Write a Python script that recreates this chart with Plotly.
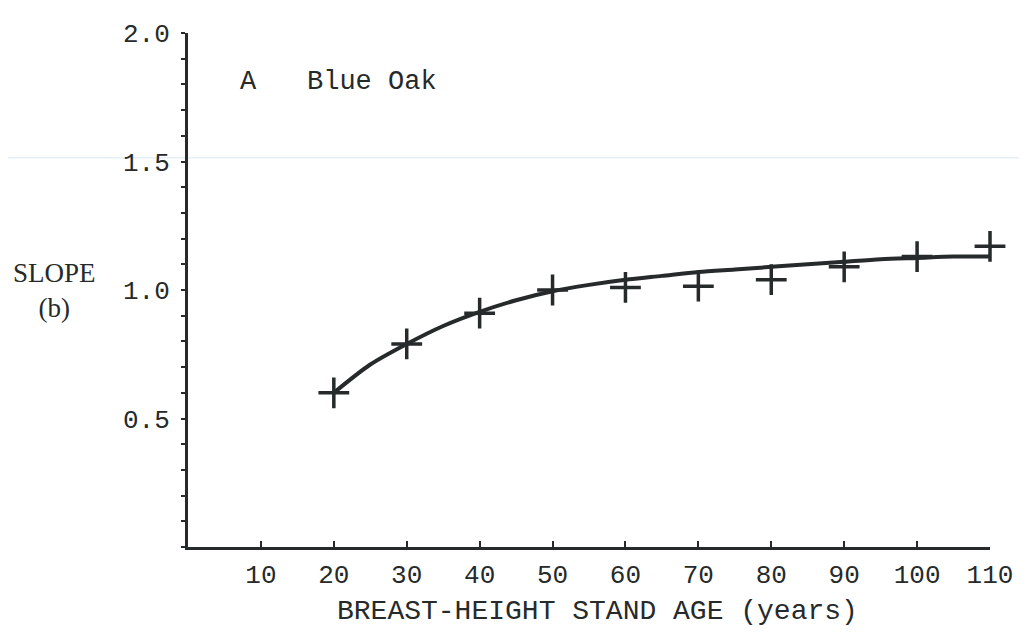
import plotly.graph_objects as go

# Observed data (stand age, slope b)
ages = [20, 30, 40, 50, 60, 70, 80, 90, 100, 110]
slopes = [0.60, 0.79, 0.91, 1.00, 1.01, 1.015, 1.04, 1.09, 1.13, 1.17]

# Fitted curve
curve_ages = [20, 25, 30, 35, 40, 45, 50, 55, 60, 65, 70, 75, 80, 85, 90, 95, 100, 105, 110]
curve_vals = [0.60, 0.71, 0.79, 0.86, 0.915, 0.96, 0.995, 1.02, 1.04, 1.055, 1.07, 1.08, 1.09,
              1.10, 1.11, 1.12, 1.125, 1.13, 1.13]

x_ticks = [10, 20, 30, 40, 50, 60, 70, 80, 90, 100, 110]
y_ticks = [0.5, 1.0, 1.5, 2.0]
y_tick_text = ["0.5", "1.0", "1.5", "2.0"]

INK = "#262a2a"
MONO = "Liberation Mono, Courier New, monospace"
SERIF = "Liberation Serif, Times New Roman, serif"

fig = go.Figure()

fig.add_trace(go.Scatter(
    x=curve_ages, y=curve_vals, mode="lines",
    line=dict(color=INK, width=4, shape="spline", smoothing=0.8),
    hoverinfo="skip", showlegend=False,
))

fig.add_trace(go.Scatter(
    x=ages, y=slopes, mode="markers",
    marker=dict(symbol="cross-thin", size=22, line=dict(color=INK, width=3.5)),
    cliponaxis=False, showlegend=False,
))

fig.update_layout(
    width=1027, height=642,
    margin=dict(l=180, r=45, t=19, b=103),
    paper_bgcolor="white", plot_bgcolor="white",
    font=dict(family=MONO, color=INK, size=26),
    xaxis=dict(
        range=[0, 110], tickmode="array", tickvals=x_ticks,
        showgrid=False, zeroline=False,
        showline=True, linecolor=INK, linewidth=3,
        ticks="inside", ticklen=6, tickwidth=2, tickcolor=INK,
        ticklabelstandoff=2,
        tickfont=dict(family=MONO, size=26, color=INK),
    ),
    yaxis=dict(
        range=[0, 2.0], tickmode="array", tickvals=y_ticks, ticktext=y_tick_text,
        showgrid=False, zeroline=False,
        showline=True, linecolor=INK, linewidth=3,
        ticks="outside", ticklen=4, tickwidth=2, tickcolor=INK,
        ticklabelstandoff=6,
        tickfont=dict(family=MONO, size=26, color=INK),
        minor=dict(dtick=0.1, ticks="outside", ticklen=4, tickwidth=2, tickcolor=INK, showgrid=False),
    ),
    shapes=[
        dict(type="line", xref="paper", yref="paper", x0=-0.23, x1=1.05, y0=0.757, y1=0.757,
             line=dict(color="rgba(170,205,220,0.45)", width=1), layer="below"),
    ],
    annotations=[
        dict(text="A", xref="paper", yref="paper", x=0.076, y=0.905,
             showarrow=False, font=dict(family=MONO, size=27, color=INK),
             xanchor="center", yanchor="middle"),
        dict(text="Blue Oak", xref="paper", yref="paper", x=0.230, y=0.905,
             showarrow=False, font=dict(family=MONO, size=27, color=INK),
             xanchor="center", yanchor="middle"),
        dict(text="SLOPE<br>(b)", xref="paper", yref="paper", x=-0.167, y=0.5,
             showarrow=False, font=dict(family=SERIF, size=27, color=INK),
             xanchor="center", yanchor="middle"),
        dict(text="BREAST-HEIGHT STAND AGE (years)", xref="paper", yref="paper",
             x=0.511, y=-0.125, showarrow=False,
             font=dict(family=MONO, size=28, color=INK),
             xanchor="center", yanchor="middle"),
    ],
)

fig.write_html("out.html")
